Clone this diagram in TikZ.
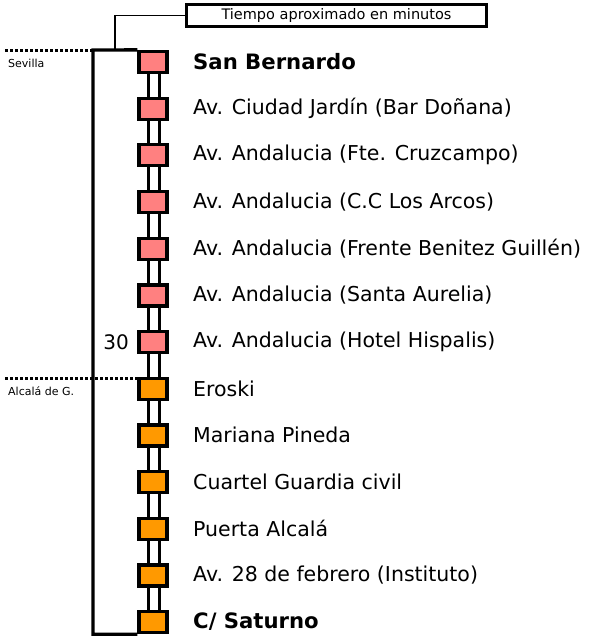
\documentclass[tikz,border=0pt]{standalone}
\usepackage{fontspec}
\setmainfont{DejaVu Sans}
\definecolor{pinkstop}{HTML}{FF8080}
\definecolor{orangestop}{HTML}{FF9900}
\begin{document}
\begin{tikzpicture}[x=1pt,y=-1pt,
  stop/.style={draw=black,line width=3.3pt,minimum width=28pt,minimum height=21pt,inner sep=0pt},
  link/.style={draw=black,fill=white,line width=3pt},
  lbl/.style={anchor=west,inner sep=0pt,font=\fontsize{20.5}{22}\selectfont},
  blbl/.style={anchor=west,inner sep=0pt,font=\fontsize{21.2}{22}\selectfont\bfseries},
  city/.style={anchor=west,inner sep=0pt,font=\fontsize{11}{12}\selectfont},
  bracket/.style={line width=3.3pt},
  border/.style={line width=3pt,dash pattern=on 3pt off 2pt},
]
\useasboundingbox (0,0) rectangle (597,641);
% connectors (drawn first, under stops)
\foreach \i in {0,...,11}{
  \path[link] (148.5,{62+46.67*\i}) rectangle (159.5,{62+46.67*(\i+1)});
}
% stops
\foreach \i/\c in {1/pinkstop,2/pinkstop,3/pinkstop,4/pinkstop,5/pinkstop,6/pinkstop,7/pinkstop,8/orangestop,9/orangestop,10/orangestop,11/orangestop,12/orangestop,13/orangestop}{
  \node[stop,fill=\c] (s\i) at (153,{62+46.67*(\i-1)}) {};
}
% labels
\node[blbl] (l1) at (193,62) {San Bernardo};
\node[lbl] (l2) at (193,108.67) {Av. Ciudad Jardín (Bar Doñana)};
\node[lbl] (l3) at (193,155.33) {Av. Andalucia (Fte. Cruzcampo)};
\node[lbl] (l4) at (193,202) {Av. Andalucia (C.C Los Arcos)};
\node[lbl] (l5) at (193,248.67) {Av. Andalucia (Frente Benitez Guillén)};
\node[lbl] (l6) at (193,295.33) {Av. Andalucia (Santa Aurelia)};
\node[lbl] (l7) at (193,342) {Av. Andalucia (Hotel Hispalis)};
\node[lbl] (l8) at (193,388.67) {Eroski};
\node[lbl] (l9) at (193,435.33) {Mariana Pineda};
\node[lbl] (l10) at (193,482) {Cuartel Guardia civil};
\node[lbl] (l11) at (193,528.67) {Puerta Alcalá};
\node[lbl] (l12) at (193,575.33) {Av. 28 de febrero (Instituto)};
\node[blbl] (l13) at (193,622) {C/ Saturno};
% time
\node[anchor=east,inner sep=0pt,font=\fontsize{20}{22}\selectfont] (t30) at (129,342) {30};
% bracket
\coordinate (bl) at (93,50);
\draw[bracket] (s1.north west) -- (bl) |- (s13.south west);
% title box
\node[draw=black,line width=3pt,minimum width=300pt,minimum height=22pt,inner sep=0pt,font=\fontsize{14.5}{16}\selectfont] (title) at (336.5,15.5) {Tiempo aproximado en minutos};
\coordinate (cb) at (115,50);
\draw[line width=1.3pt] (title.west) -| (cb);
% borders
\coordinate (sv) at (5,50);
\coordinate (al) at (5,378);
\coordinate (alend) at (137,378);
\draw[border] (sv) -- (bl);
\draw[border] (al) -- (alend);
\node[city] (sevilla) at (8,63) {Sevilla};
\node[city] (alcala) at (8,391) {Alcalá de G.};
\end{tikzpicture}
\end{document}
